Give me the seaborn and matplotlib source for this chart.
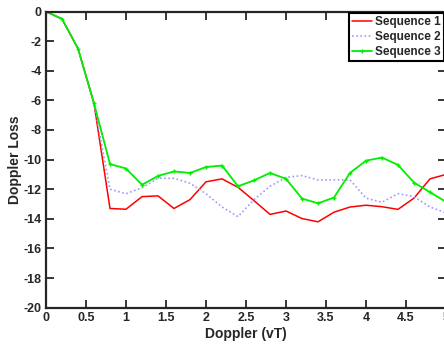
import matplotlib
matplotlib.use("Agg")
import matplotlib.pyplot as plt
import seaborn as sns
import pandas as pd

doppler = [0.0, 0.2, 0.4, 0.6, 0.8, 1.0, 1.2, 1.4, 1.6, 1.8, 2.0, 2.2, 2.4,
           2.6, 2.8, 3.0, 3.2, 3.4, 3.6, 3.8, 4.0, 4.2, 4.4, 4.6, 4.8, 5.0]
seq1 = [0.0, -0.5, -2.5, -6.2, -13.3, -13.35, -12.5, -12.45, -13.3, -12.7, -11.5, -11.3, -11.87,
        -12.77, -13.7, -13.47, -13.98, -14.2, -13.55, -13.2, -13.08, -13.18, -13.36, -12.6, -11.3, -11.0]
seq2 = [0.0, -0.5, -2.5, -6.2, -12.0, -12.3, -11.9, -11.26, -11.26, -11.6, -12.3, -13.2, -13.85,
        -12.7, -11.8, -11.2, -11.08, -11.37, -11.37, -11.37, -12.6, -12.88, -12.3, -12.5, -13.2, -13.6]
seq3 = [0.0, -0.5, -2.5, -6.2, -10.3, -10.6, -11.7, -11.1, -10.8, -10.9, -10.5, -10.4, -11.8,
        -11.4, -10.9, -11.3, -12.63, -12.95, -12.56, -10.9, -10.07, -9.86, -10.36, -11.55, -12.2, -12.85]
labels = ["Sequence 1", "Sequence 2", "Sequence 3"]
xticks = [0, 0.5, 1, 1.5, 2, 2.5, 3, 3.5, 4, 4.5, 5]
xticklabels = ["0", "0.5", "1", "1.5", "2", "2.5", "3", "3.5", "4", "4.5", "5"]
yticks = [0, -2, -4, -6, -8, -10, -12, -14, -16, -18, -20]

sns.set_style("ticks")
plt.rcParams["font.family"] = ["Liberation Sans", "DejaVu Sans"]
plt.rcParams["axes.unicode_minus"] = False

fig = plt.figure(figsize=(4.44, 3.44), dpi=100)
ax = fig.add_axes([0.1036, 0.1055, 0.9009, 0.861])

df = pd.DataFrame({"x": doppler, "s1": seq1, "s2": seq2, "s3": seq3})
sns.lineplot(data=df, x="x", y="s1", ax=ax, color="#ff0000", lw=1.1, label=labels[0])
sns.lineplot(data=df, x="x", y="s2", ax=ax, color="#9a9aff", lw=1.2, ls=(0, (1, 1.5)), label=labels[1])
sns.lineplot(data=df, x="x", y="s3", ax=ax, color="#00ee00", lw=1.3, marker="+", ms=3.5,
             mew=1.0, mec="#00ee00", label=labels[2])

ax.set_xlim(0, 5)
ax.set_ylim(-20, 0)
ax.set_xticks(xticks)
ax.set_xticklabels(xticklabels)
ax.set_yticks(yticks)
ax.tick_params(direction="in", length=6, width=1.3, top=True, right=True, labelsize=9, pad=3)
for t in ax.get_xticklabels() + ax.get_yticklabels():
    t.set_fontweight("bold")
for s in ax.spines.values():
    s.set_linewidth(1.6)
    s.set_visible(True)
ax.set_xlabel("Doppler (vT)", fontsize=10, fontweight="bold", labelpad=2)
ax.set_ylabel("Doppler Loss", fontsize=10, fontweight="bold", labelpad=1)

leg = ax.legend(loc="upper right", bbox_to_anchor=(1.0, 0.962), bbox_transform=fig.transFigure,
                borderaxespad=0, fancybox=False, framealpha=1, edgecolor="black",
                prop={"weight": "bold", "size": 8.5}, handlelength=1.7, handletextpad=0.3,
                labelspacing=0.25, borderpad=0.25)
leg.get_frame().set_linewidth(1.5)

fig.savefig("out.png", dpi=100)
